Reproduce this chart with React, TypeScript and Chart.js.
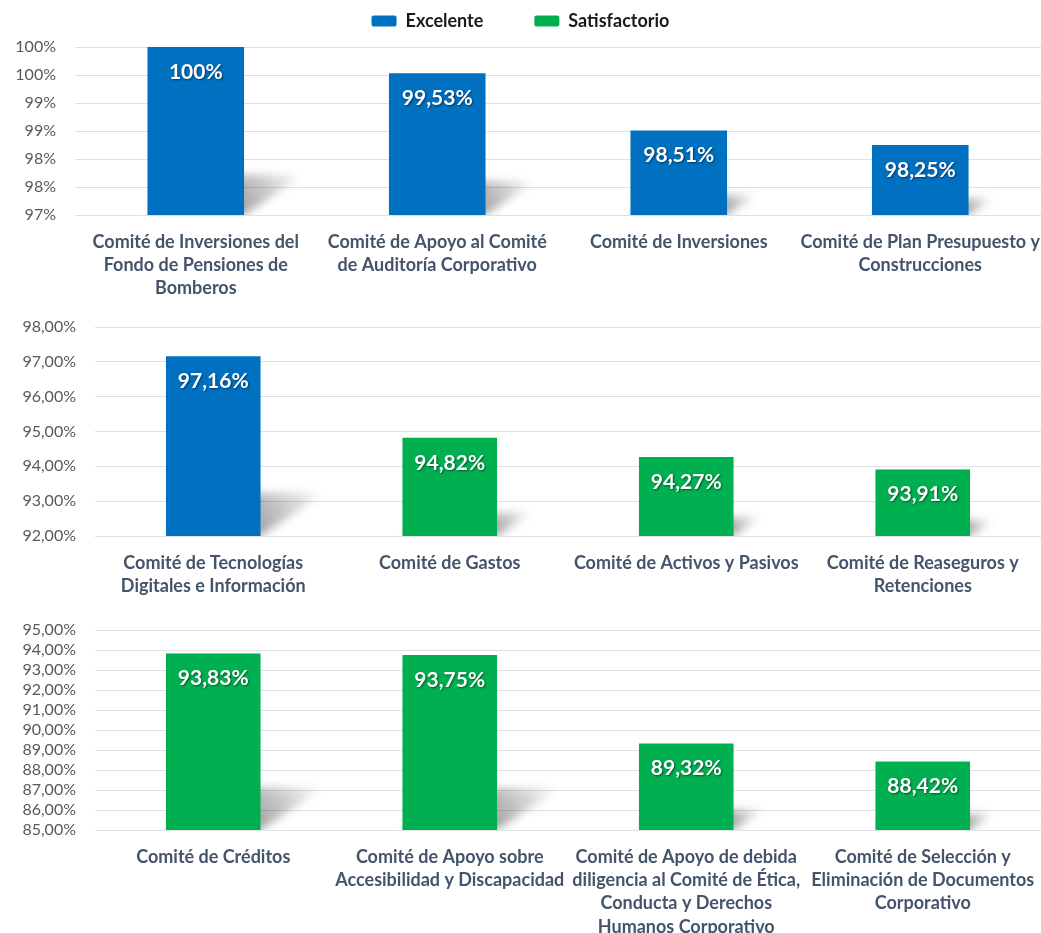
import React, { useEffect, useRef } from 'react';
import { Chart, registerables } from 'chart.js';

Chart.register(...registerables);

// ---------- DATA ----------
const seriesNames = ['Excelente', 'Satisfactorio'];

const topCategories = [
  ['Comité de Inversiones del', 'Fondo de Pensiones de', 'Bomberos'],
  ['Comité de Apoyo al Comité', 'de Auditoría Corporativo'],
  ['Comité de Inversiones'],
  ['Comité de Plan Presupuesto y', 'Construcciones'],
];
const topExcelente = [100, 99.53, 98.51, 98.25];
const topSatisfactorio = [null, null, null, null];
const topAxis = [97, 100, 0.5]; // min, max, step
const topTickDecimals = 0;

const midCategories = [
  ['Comité de Tecnologías', 'Digitales e Información'],
  ['Comité de Gastos'],
  ['Comité de Activos y Pasivos'],
  ['Comité de Reaseguros y', 'Retenciones'],
];
const midExcelente = [97.16, null, null, null];
const midSatisfactorio = [null, 94.82, 94.27, 93.91];
const midAxis = [92, 98, 1];
const midTickDecimals = 2;

const lowCategories = [
  ['Comité de Créditos'],
  ['Comité de Apoyo sobre', 'Accesibilidad y Discapacidad'],
  ['Comité de Apoyo de debida', 'diligencia al Comité de Ética,', 'Conducta y Derechos', 'Humanos Corporativo'],
  ['Comité de Selección y', 'Eliminación de Documentos', 'Corporativo'],
];
const lowExcelente = [null, null, null, null];
const lowSatisfactorio = [93.83, 93.75, 89.32, 88.42];
const lowAxis = [85, 95, 1];
const lowTickDecimals = 2;

// ---------- STYLE ----------
const BLUE = '#0070C0';
const GREEN = '#00B050';
const FONT = 'Lato';
const WIDTH = 1041;
const LEGEND_FONT = 18;

const fmtTick = (v: number, d: number) => v.toFixed(d).replace('.', ',') + '%';
const fmtValue = (v: number) =>
  Number.isInteger(v) ? v + '%' : v.toFixed(2).replace('.', ',') + '%';

const shadowPlugin = {
  id: 'barShadow',
  beforeDatasetsDraw(chart: any) {
    const ctx = chart.ctx as CanvasRenderingContext2D;
    const area = chart.chartArea;
    chart.data.datasets.forEach((ds: any, di: number) => {
      const meta = chart.getDatasetMeta(di);
      meta.data.forEach((bar: any, i: number) => {
        if (ds.data[i] == null) return;
        const { x, y, base: rawBase, width } = bar.getProps(['x', 'y', 'base', 'width'], true);
        const base = Math.min(rawBase, area.bottom);
        const top = Math.max(y, area.top);
        const H = base - top;
        if (!(H > 0)) return;
        const h = H * 0.24;
        const dx = H * 0.36;
        const left = x - width / 2;
        const right = x + width / 2;
        ctx.save();
        ctx.beginPath();
        ctx.rect(area.left, area.top, area.right - area.left, base - area.top);
        ctx.clip();
        ctx.filter = 'blur(4px)';
        const g = ctx.createLinearGradient(right, base, right + dx, base - h);
        g.addColorStop(0, 'rgba(0,0,0,0.36)');
        g.addColorStop(0.55, 'rgba(0,0,0,0.17)');
        g.addColorStop(1, 'rgba(0,0,0,0.0)');
        ctx.fillStyle = g;
        ctx.beginPath();
        ctx.moveTo(left, base);
        ctx.lineTo(right, base);
        ctx.lineTo(right + dx, base - h);
        ctx.lineTo(left + dx, base - h);
        ctx.closePath();
        ctx.fill();
        ctx.restore();
      });
    });
  },
};

const valueLabelPlugin = {
  id: 'valueLabels',
  afterDatasetsDraw(chart: any) {
    const ctx = chart.ctx as CanvasRenderingContext2D;
    chart.data.datasets.forEach((ds: any, di: number) => {
      const meta = chart.getDatasetMeta(di);
      meta.data.forEach((bar: any, i: number) => {
        const v = ds.data[i];
        if (v == null) return;
        const { x, y } = bar.getProps(['x', 'y'], true);
        ctx.save();
        ctx.font = `bold 21px ${FONT}`;
        ctx.fillStyle = '#FFFFFF';
        ctx.textAlign = 'center';
        ctx.textBaseline = 'middle';
        ctx.shadowColor = 'rgba(0,0,0,0.5)';
        ctx.shadowBlur = 2;
        ctx.shadowOffsetX = 1;
        ctx.shadowOffsetY = 1;
        ctx.fillText(fmtValue(v), x, y + 25);
        ctx.restore();
      });
    });
  },
};

const legendExtraPlugin = (extra: number) => ({
  id: 'legendExtra',
  beforeInit(chart: any) {
    if (!chart.legend) return;
    const orig = chart.legend.fit;
    chart.legend.fit = function fit() {
      orig.call(this);
      this.height += extra;
    };
  },
});

interface PanelCfg {
  categories: string[][];
  excelente: (number | null)[];
  satisfactorio: (number | null)[];
  axis: number[];
  decimals: number;
  legend: boolean;
  top: number;
  height: number;
  plotLeft: number;
  plotTop: number;
  plotBottom: number;
}

const panels: PanelCfg[] = [
  { categories: topCategories, excelente: topExcelente, satisfactorio: topSatisfactorio, axis: topAxis, decimals: topTickDecimals, legend: true, top: 0, height: 300, plotLeft: 75, plotTop: 47, plotBottom: 215 },
  { categories: midCategories, excelente: midExcelente, satisfactorio: midSatisfactorio, axis: midAxis, decimals: midTickDecimals, legend: false, top: 300, height: 300, plotLeft: 95, plotTop: 26, plotBottom: 236 },
  { categories: lowCategories, excelente: lowExcelente, satisfactorio: lowSatisfactorio, axis: lowAxis, decimals: lowTickDecimals, legend: false, top: 600, height: 333, plotLeft: 95, plotTop: 30, plotBottom: 230 },
];

function Panel({ cfg }: { cfg: PanelCfg }) {
  const ref = useRef<HTMLCanvasElement>(null);
  useEffect(() => {
    if (!ref.current) return;
    const legendPad = 51;
    const legendTextCenter = 21;
    const padTop = cfg.legend ? legendTextCenter - legendPad - LEGEND_FONT / 2 : cfg.plotTop;
    const legendHeight = LEGEND_FONT + legendPad + 10;
    const extra = cfg.legend ? cfg.plotTop - (padTop + legendHeight) : 0;
    const chart = new Chart(ref.current, {
      type: 'bar',
      data: {
        labels: cfg.categories,
        datasets: [
          { label: seriesNames[0], data: cfg.excelente, backgroundColor: BLUE, borderWidth: 0 },
          { label: seriesNames[1], data: cfg.satisfactorio, backgroundColor: GREEN, borderWidth: 0 },
        ],
      },
      options: {
        responsive: false,
        animation: false,
        devicePixelRatio: 1,
        layout: { padding: { top: padTop, left: 0, right: 0, bottom: 0 } },
        datasets: { bar: { grouped: false, barPercentage: 0.4, categoryPercentage: 1 } },
        plugins: {
          legend: {
            display: cfg.legend,
            position: 'top',
            align: 'center',
            labels: {
              boxWidth: 25,
              boxHeight: 11,
              padding: legendPad,
              color: '#1A1A1A',
              font: { family: FONT, size: LEGEND_FONT, weight: 'bold' },
              generateLabels: (ch: any) =>
                ch.data.datasets.map((d: any, i: number) => ({
                  text: d.label,
                  fillStyle: d.backgroundColor,
                  strokeStyle: d.backgroundColor,
                  lineWidth: 0,
                  borderRadius: 2,
                  hidden: false,
                  datasetIndex: i,
                  fontColor: '#1A1A1A',
                })),
            },
          },
          tooltip: { enabled: false },
        },
        scales: {
          x: {
            grid: { display: false, drawTicks: false },
            border: { display: false },
            ticks: {
              autoSkip: false,
              maxRotation: 0,
              minRotation: 0,
              padding: 15,
              color: '#44546A',
              font: { family: FONT, size: 18, weight: 'bold', lineHeight: 1.3 },
            },
            afterFit: (s: any) => {
              s.height = cfg.height - cfg.plotBottom;
              s.paddingLeft = 0;
              s.paddingRight = 0;
            },
          },
          y: {
            min: cfg.axis[0],
            max: cfg.axis[1],
            grid: { color: '#DCE0E7', lineWidth: 1, drawTicks: false },
            border: { display: false },
            ticks: {
              stepSize: cfg.axis[2],
              autoSkip: false,
              maxTicksLimit: 50,
              padding: 19,
              color: '#595959',
              font: { family: FONT, size: 16, lineHeight: 1 },
              callback: (v: any) => fmtTick(Number(v), cfg.decimals),
            },
            afterFit: (s: any) => {
              s.width = cfg.plotLeft;
            },
          },
        },
      } as any,
      plugins: [shadowPlugin, valueLabelPlugin, legendExtraPlugin(extra)],
    });
    return () => chart.destroy();
  }, [cfg]);
  return (
    <canvas
      ref={ref}
      width={WIDTH}
      height={cfg.height}
      style={{ position: 'absolute', left: 0, top: cfg.top, width: WIDTH, height: cfg.height }}
    />
  );
}

export default function App() {
  return (
    <div style={{ position: 'fixed', left: 0, top: 0, width: WIDTH, height: 933, background: '#FFFFFF', overflow: 'hidden' }}>
      {panels.map((p, i) => (
        <Panel key={i} cfg={p} />
      ))}
    </div>
  );
}
